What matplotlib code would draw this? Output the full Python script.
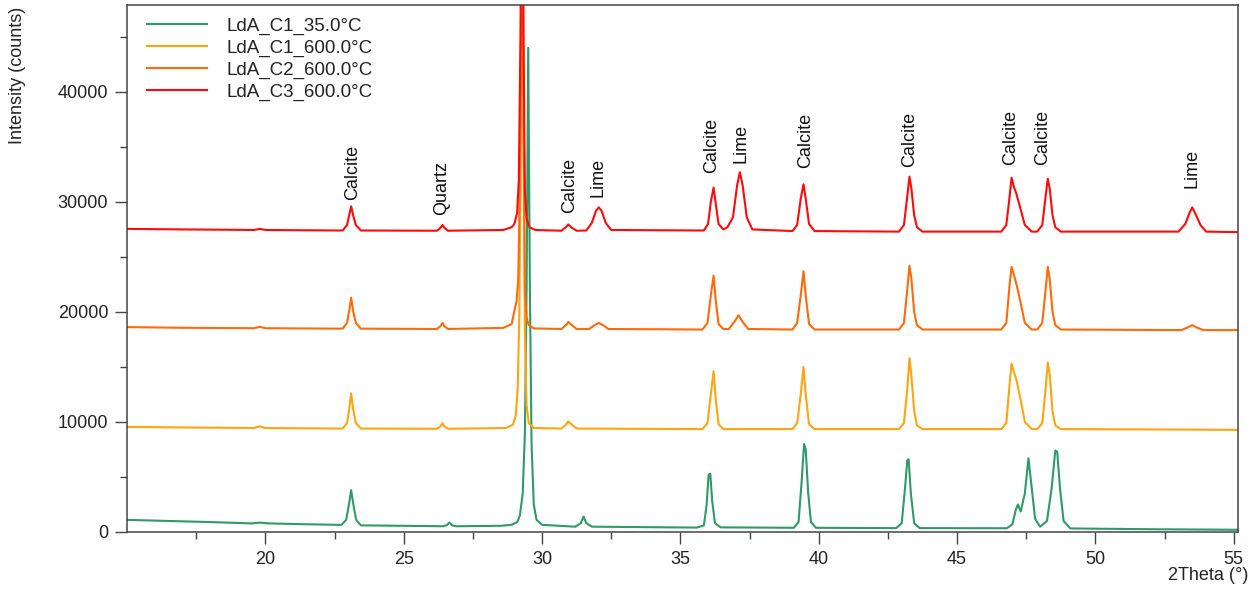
import matplotlib
matplotlib.use("Agg")
from matplotlib import pyplot as plt
from matplotlib.ticker import FixedLocator

plt.rcParams['font.family'] = ['Liberation Sans', 'DejaVu Sans']
plt.rcParams['font.size'] = 13

# --- data (2theta in degrees, intensity in counts) ---
c1_35_theta = [15.0, 16.5, 18.0, 19.5, 19.8, 20.1, 21.5, 22.6,
               22.75, 22.92, 23.02, 23.1, 23.18, 23.28, 23.45,
               25.0, 26.4, 26.55, 26.65, 26.75, 26.9,
               28.5, 28.9, 29.1, 29.2, 29.3, 29.38, 29.44, 29.5, 29.56, 29.62, 29.7, 29.8, 30.0,
               31.2, 31.4, 31.5, 31.6, 31.8,
               35.6, 35.85, 35.95, 36.02, 36.08, 36.15, 36.25, 36.45,
               39.1, 39.27, 39.38, 39.47, 39.53, 39.62, 39.72, 39.9,
               42.8, 43.0, 43.12, 43.2, 43.25, 43.33, 43.45, 43.65,
               46.8, 47.0, 47.12, 47.2, 47.3, 47.45, 47.58, 47.7, 47.82, 48.0,
               48.25, 48.42, 48.55, 48.62, 48.72, 48.85, 49.1,
               52.0, 55.2]
c1_35_counts = [1100, 1000, 900, 780, 850, 780, 700, 650,
                640, 1100, 2500, 3800, 2500, 1100, 600,
                560, 520, 600, 850, 600, 520,
                560, 650, 900, 1500, 3500, 9000, 22000, 44000, 22000, 8000, 2500, 1100, 650,
                480, 800, 1400, 800, 480,
                400, 600, 2500, 5200, 5300, 2800, 800, 420,
                380, 900, 4500, 8000, 7500, 3500, 900, 380,
                350, 800, 4000, 6500, 6600, 3500, 800, 350,
                340, 700, 2000, 2500, 1850, 3500, 6700, 4000, 1200, 480,
                1000, 4000, 7400, 7300, 4000, 1000, 320,
                250, 200]

c1_600_theta = [15.0, 17.0, 19.6, 19.8, 20.0, 22.7,
                22.8, 22.95, 23.03, 23.1, 23.17, 23.27, 23.45,
                26.2, 26.33, 26.4, 26.47, 26.6,
                28.7, 28.95, 29.05, 29.12, 29.18, 29.23, 29.28, 29.33, 29.38, 29.44, 29.52, 29.7,
                30.7, 30.88, 30.95, 31.05, 31.25,
                35.8, 35.98, 36.1, 36.2, 36.28, 36.38, 36.55,
                39.05, 39.22, 39.35, 39.45, 39.53, 39.65, 39.85,
                42.9, 43.08, 43.2, 43.28, 43.35, 43.45, 43.55, 43.75,
                46.6, 46.78, 46.9, 46.97, 47.05, 47.15, 47.3, 47.45, 47.7,
                47.9, 48.08, 48.2, 48.28, 48.35, 48.45, 48.55, 48.75,
                52.0, 55.2]
c1_600_counts = [9550, 9500, 9450, 9600, 9450, 9400,
                 9420, 9900, 11200, 12600, 11200, 9900, 9400,
                 9380, 9600, 9900, 9600, 9380,
                 9450, 9750, 10600, 13000, 20000, 35000, 62000, 35000, 18000, 11500, 9900, 9450,
                 9400, 9800, 10050, 9800, 9400,
                 9350, 9900, 12500, 14600, 12000, 9800, 9350,
                 9350, 9900, 12500, 15000, 12500, 9800, 9350,
                 9350, 9900, 13000, 15800, 14200, 11000, 9700, 9350,
                 9350, 9900, 13500, 15300, 14600, 13800, 12000, 10000, 9350,
                 9350, 9900, 13000, 15400, 14300, 11000, 9700, 9350,
                 9320, 9280]

c2_600_theta = [15.0, 17.0, 19.6, 19.8, 20.0, 22.7,
                22.8, 22.95, 23.03, 23.1, 23.17, 23.27, 23.45,
                26.2, 26.33, 26.4, 26.47, 26.6,
                28.6, 28.9, 29.0, 29.08, 29.14, 29.2, 29.25, 29.28, 29.33, 29.38, 29.44, 29.52, 29.7,
                30.7, 30.88, 30.95, 31.05, 31.25,
                31.7, 31.9, 32.05, 32.2, 32.4,
                35.8, 35.98, 36.1, 36.2, 36.28, 36.38, 36.55,
                36.75, 36.95, 37.1, 37.25, 37.45,
                39.05, 39.22, 39.35, 39.45, 39.53, 39.65, 39.85,
                42.9, 43.08, 43.2, 43.28, 43.35, 43.45, 43.55, 43.75,
                46.6, 46.78, 46.9, 46.97, 47.05, 47.15, 47.3, 47.45, 47.7,
                47.9, 48.08, 48.2, 48.28, 48.35, 48.45, 48.55, 48.75,
                53.1, 53.35, 53.5, 53.65, 53.9, 55.2]
c2_600_counts = [18620, 18560, 18520, 18650, 18520, 18480,
                 18500, 19000, 20100, 21300, 20100, 19000, 18480,
                 18450, 18700, 19000, 18700, 18450,
                 18550, 18900, 20100, 21000, 23000, 32000, 50000, 65000, 40000, 22000, 19500, 18800, 18500,
                 18450, 18850, 19100, 18850, 18450,
                 18450, 18800, 19000, 18800, 18450,
                 18400, 19000, 21500, 23300, 21000, 18900, 18450,
                 18450, 19100, 19700, 19100, 18450,
                 18400, 19000, 21500, 23700, 21500, 18900, 18400,
                 18400, 19000, 22000, 24200, 23000, 20000, 18800, 18400,
                 18400, 19000, 22500, 24100, 23400, 22500, 20800, 19000, 18400,
                 18400, 19000, 22000, 24100, 23000, 20000, 18800, 18400,
                 18350, 18600, 18800, 18600, 18350, 18350]

c3_600_theta = [15.0, 17.0, 19.6, 19.8, 20.0, 22.7,
                22.8, 22.95, 23.03, 23.1, 23.17, 23.27, 23.45,
                26.2, 26.33, 26.4, 26.47, 26.6,
                28.6, 28.9, 29.0, 29.1, 29.16, 29.22, 29.28, 29.33, 29.38, 29.44, 29.55, 29.75,
                30.7, 30.88, 30.95, 31.05, 31.25,
                31.6, 31.8, 31.95, 32.05, 32.15, 32.3, 32.5,
                35.85, 36.0, 36.1, 36.2, 36.28, 36.38, 36.55,
                36.7, 36.9, 37.05, 37.15, 37.25, 37.4, 37.6,
                39.05, 39.22, 39.35, 39.45, 39.53, 39.65, 39.85,
                42.9, 43.08, 43.2, 43.28, 43.35, 43.45, 43.55, 43.75,
                46.6, 46.78, 46.9, 46.97, 47.05, 47.15, 47.3, 47.45, 47.7,
                47.9, 48.08, 48.2, 48.28, 48.35, 48.45, 48.55, 48.75,
                53.0, 53.25, 53.4, 53.5, 53.6, 53.8, 54.0, 55.2]
c3_600_counts = [27550, 27500, 27450, 27550, 27450, 27400,
                 27420, 27900, 28800, 29600, 28800, 27900, 27400,
                 27380, 27650, 27900, 27650, 27380,
                 27450, 27700, 28000, 29000, 32000, 45000, 70000, 45000, 31000, 28500, 27700, 27450,
                 27380, 27750, 27950, 27700, 27380,
                 27400, 28100, 29200, 29500, 29200, 28100, 27450,
                 27400, 28000, 30000, 31300, 29800, 28000, 27500,
                 27700, 28600, 31500, 32700, 31500, 28600, 27500,
                 27350, 27900, 30300, 31600, 30300, 28000, 27350,
                 27300, 27900, 30500, 32300, 31200, 28800, 27700, 27300,
                 27300, 27900, 30500, 32200, 31400, 30700, 29300, 27900, 27300,
                 27300, 27900, 30500, 32100, 31200, 28800, 27700, 27300,
                 27300, 28000, 29000, 29500, 29000, 27900, 27300, 27250]

series_labels = ["LdA_C1_35.0°C", "LdA_C1_600.0°C", "LdA_C2_600.0°C", "LdA_C3_600.0°C"]
series_colors = ["#2f9a68", "#ffa510", "#ff6a0a", "#ff0a0a"]

annot_labels = ["Calcite", "Quartz", "Calcite", "Lime", "Calcite", "Lime",
                "Calcite", "Calcite", "Calcite", "Calcite", "Lime"]
annot_theta = [23.14, 26.36, 30.98, 32.03, 36.14, 37.19, 39.54, 43.29, 46.94, 48.10, 53.48]
annot_counts = [30200, 28800, 29000, 30450, 32650, 33550, 33100, 33200, 33350, 33350, 31300]

x_major = [20, 25, 30, 35, 40, 45, 50, 55]
x_minor = [17.5, 22.5, 27.5, 32.5, 37.5, 42.5, 47.5, 52.5]
y_major = [0, 10000, 20000, 30000, 40000]
y_minor = [5000, 15000, 25000, 35000, 45000]

fig = plt.figure(figsize=(12.58, 5.92), dpi=100)
ax = fig.add_axes([0.101, 0.1014, 0.883, 0.8902])

all_theta = [c1_35_theta, c1_600_theta, c2_600_theta, c3_600_theta]
all_counts = [c1_35_counts, c1_600_counts, c2_600_counts, c3_600_counts]
for th, cn, lab, col in zip(all_theta, all_counts, series_labels, series_colors):
    ax.plot(th, cn, color=col, lw=1.5, label=lab)

for lab, th, cn in zip(annot_labels, annot_theta, annot_counts):
    ax.text(th, cn, lab, rotation=90, ha="center", va="bottom", fontsize=13, color="#111111")

ax.set_xlim(15.0, 55.15)
ax.set_ylim(0, 47900)
ax.xaxis.set_major_locator(FixedLocator(x_major))
ax.xaxis.set_minor_locator(FixedLocator(x_minor))
ax.yaxis.set_major_locator(FixedLocator(y_major))
ax.yaxis.set_minor_locator(FixedLocator(y_minor))

for sp in ax.spines.values():
    sp.set_color("#444444")
    sp.set_linewidth(1.1)
ax.tick_params(which="major", length=8.5, width=1.0, color="#444444", labelcolor="#222222", pad=5)
ax.tick_params(which="minor", length=5, width=1.0, color="#444444")

# nudge legend: a bit right and up compared with the default corner placement
leg = ax.legend(loc="upper left", bbox_to_anchor=(0.003, 1.008), frameon=False, fontsize=13.5,
                handlelength=3.2, handletextpad=1.05, labelspacing=0.25,
                borderaxespad=0.3, borderpad=0.6)
for t in leg.get_texts():
    t.set_color("#222222")

fig.text(1248 / 1258, 1 - 576 / 592, "2Theta (°)", ha="right", va="center", color="#222222")
fig.text(18 / 1258, 1 - 75 / 592, "Intensity (counts)", rotation=90, ha="center", va="center",
         color="#222222")

fig.savefig("out.png", dpi=100)
